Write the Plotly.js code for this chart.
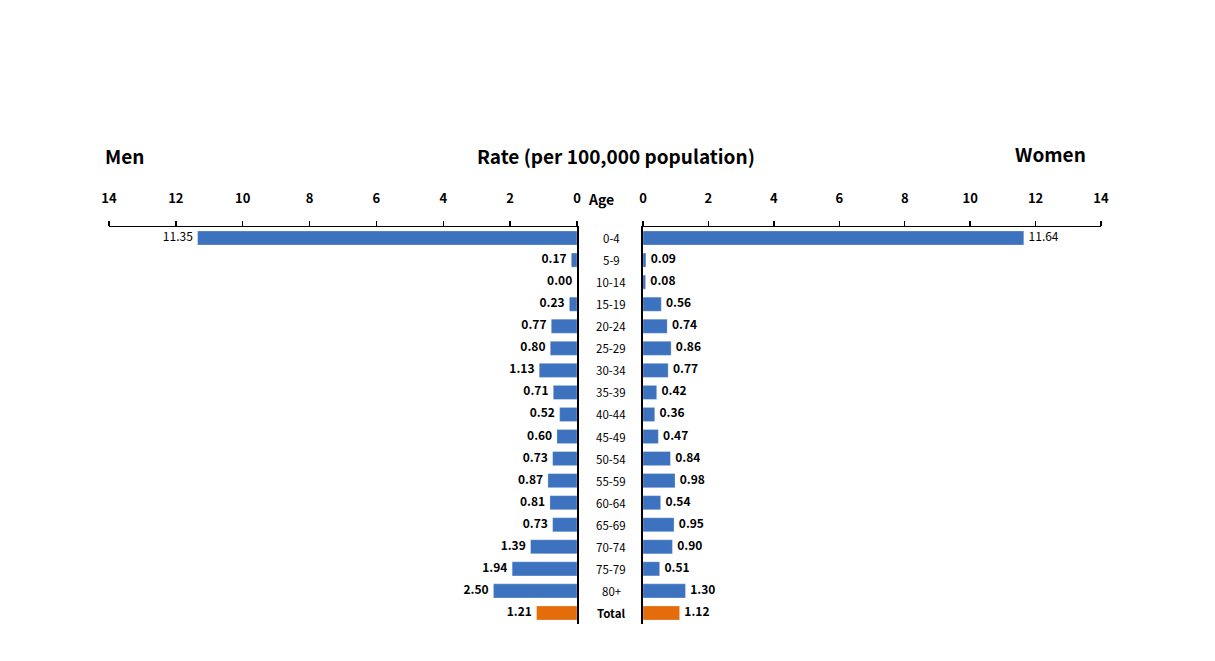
<!DOCTYPE html>
<html>
<head>
<meta charset="utf-8">
<script src="https://cdn.plot.ly/plotly-3.0.1.min.js"></script>
<style>html,body{margin:0;padding:0;background:#fff;}#chart{width:1215px;height:661px;}</style>
</head>
<body>
<div id="chart"></div>
<script>
const ageGroups = ["0-4","5-9","10-14","15-19","20-24","25-29","30-34","35-39","40-44","45-49","50-54","55-59","60-64","65-69","70-74","75-79","80+","Total"];
const menRates = [11.35,0.17,0.00,0.23,0.77,0.80,1.13,0.71,0.52,0.60,0.73,0.87,0.81,0.73,1.39,1.94,2.50,1.21];
const womenRates = [11.64,0.09,0.08,0.56,0.74,0.86,0.77,0.42,0.36,0.47,0.84,0.98,0.54,0.95,0.90,0.51,1.30,1.12];
const tickVals = [0,2,4,6,8,10,12,14];

const FONT = '"Noto Sans CJK KR", "Open Sans", sans-serif';
const BLUE = '#3C72BE';
const ORANGE = '#E46C0A';
const colorsFor = arr => arr.map((v,i) => ageGroups[i] === 'Total' ? ORANGE : BLUE);
const textFor = arr => arr.map((v,i) => i === 0 ? v.toFixed(2) : '<b>' + v.toFixed(2) + '</b>');

const barStyle = arr => ({color:colorsFor(arr), line:{color:'rgba(255,255,255,0.6)', width:0.5}});
const hiddenMarker = {size:6, color:'rgba(0,0,0,0)'};

const traces = [
  {type:'bar', orientation:'h', y:ageGroups, x:menRates, xaxis:'x', yaxis:'y',
   marker:barStyle(menRates), hoverinfo:'x+y'},
  {type:'bar', orientation:'h', y:ageGroups, x:womenRates, xaxis:'x2', yaxis:'y2',
   marker:barStyle(womenRates), hoverinfo:'x+y'},
  {type:'scatter', mode:'markers+text', y:ageGroups, x:menRates, xaxis:'x', yaxis:'y',
   marker:hiddenMarker, text:textFor(menRates), textposition:'middle left', cliponaxis:false,
   textfont:{family:FONT, size:12, color:'#000'}, hoverinfo:'skip'},
  {type:'scatter', mode:'markers+text', y:ageGroups, x:womenRates, xaxis:'x2', yaxis:'y2',
   marker:hiddenMarker, text:textFor(womenRates), textposition:'middle right', cliponaxis:false,
   textfont:{family:FONT, size:12, color:'#000'}, hoverinfo:'skip'}
];

const annotations = ageGroups.map(g => ({
  text: g === 'Total' ? '<b>Total</b>' : g, xref:'paper', yref:'y', x:0.503, y:g,
  showarrow:false, xanchor:'center', yanchor:'middle',
  font:{family:FONT, size:11.5, color:'#000'}
}));
annotations.push(
  {text:'<b>Men</b>', xref:'paper', yref:'paper', x:0.0845, y:1.181, xanchor:'left', yanchor:'middle', showarrow:false, font:{family:FONT, size:19, color:'#000'}},
  {text:'<b>Women</b>', xref:'paper', yref:'paper', x:0.8955, y:1.186, xanchor:'right', yanchor:'middle', showarrow:false, font:{family:FONT, size:19, color:'#000'}},
  {text:'<b>Rate (per 100,000 population)</b>', xref:'paper', yref:'paper', x:0.507, y:1.181, xanchor:'center', yanchor:'middle', showarrow:false, font:{family:FONT, size:19, color:'#000'}},
  {text:'<b>Age</b>', xref:'paper', yref:'paper', x:0.4945, y:1.0705, xanchor:'center', yanchor:'middle', showarrow:false, font:{family:FONT, size:14, color:'#000'}}
);

const xCommon = {
  side:'top', tickvals:tickVals, ticks:'outside', ticklen:5, tickcolor:'#000', tickwidth:1.5,
  showline:true, linecolor:'#000', linewidth:1.5, showgrid:false, zeroline:false,
  tickfont:{family:FONT, size:13, color:'#000', weight:'bold'}, ticklabelstandoff:12, fixedrange:true
};
const yCommon = {
  type:'category', range:[ageGroups.length - 0.5, -0.5], showline:true, linecolor:'#000', linewidth:1.5,
  showticklabels:false, ticks:'', showgrid:false, zeroline:false, fixedrange:true
};

const layout = {
  width:1215, height:661,
  margin:{l:0, r:0, t:227, b:37},
  paper_bgcolor:'#fff', plot_bgcolor:'#fff',
  showlegend:false, bargap:0.36,
  xaxis:Object.assign({}, xCommon, {domain:[0.0897,0.4749], range:[14,0], anchor:'y'}),
  xaxis2:Object.assign({}, xCommon, {domain:[0.5292,0.9062], range:[0,14], anchor:'y2'}),
  yaxis:Object.assign({}, yCommon, {anchor:'x', side:'right'}),
  yaxis2:Object.assign({}, yCommon, {anchor:'x2', side:'left'}),
  annotations:annotations
};

Plotly.newPlot('chart', traces, layout, {displayModeBar:false, staticPlot:true});
</script>
</body>
</html>
